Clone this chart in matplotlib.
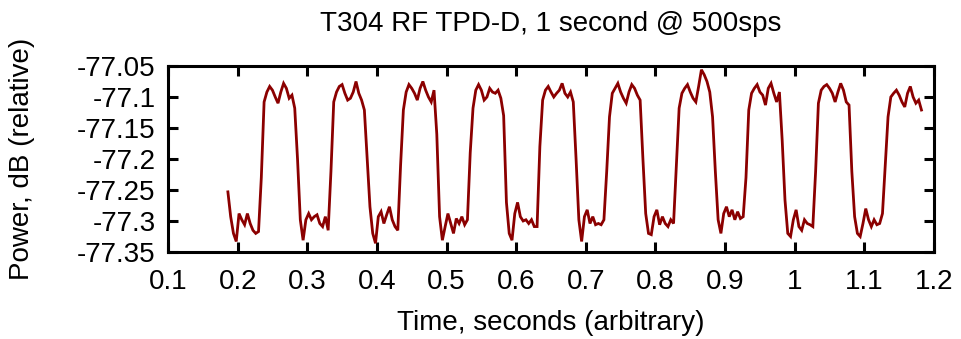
import matplotlib
matplotlib.use("Agg")
import matplotlib.pyplot as plt
from matplotlib import font_manager
import numpy as np

# ---- data ----
t_start = 0.186      # seconds, first sample shown
t_step = 0.004       # seconds between the points
power_db = [
    -77.253, -77.293, -77.320, -77.333, -77.288, -77.298, -77.306, -77.288, -77.304, -77.315,
    -77.320, -77.317, -77.230, -77.108, -77.092, -77.083, -77.089, -77.100, -77.110, -77.092,
    -77.078, -77.086, -77.102, -77.097, -77.118, -77.200, -77.298, -77.331, -77.298, -77.288,
    -77.298, -77.293, -77.290, -77.304, -77.309, -77.293, -77.315, -77.220, -77.108, -77.092,
    -77.083, -77.080, -77.094, -77.105, -77.102, -77.092, -77.075, -77.094, -77.105, -77.121,
    -77.200, -77.277, -77.320, -77.336, -77.293, -77.285, -77.304, -77.290, -77.277, -77.298,
    -77.309, -77.315, -77.210, -77.121, -77.092, -77.080, -77.086, -77.094, -77.105, -77.086,
    -77.075, -77.089, -77.100, -77.108, -77.089, -77.160, -77.293, -77.331, -77.309, -77.288,
    -77.304, -77.320, -77.296, -77.304, -77.293, -77.306, -77.298, -77.190, -77.118, -77.089,
    -77.080, -77.089, -77.105, -77.100, -77.086, -77.092, -77.094, -77.089, -77.102, -77.130,
    -77.270, -77.320, -77.331, -77.288, -77.270, -77.293, -77.300, -77.298, -77.304, -77.298,
    -77.309, -77.309, -77.180, -77.105, -77.089, -77.083, -77.092, -77.100, -77.094, -77.089,
    -77.078, -77.094, -77.100, -77.092, -77.108, -77.200, -77.298, -77.333, -77.293, -77.282,
    -77.304, -77.293, -77.306, -77.304, -77.306, -77.298, -77.220, -77.132, -77.094, -77.086,
    -77.078, -77.092, -77.102, -77.110, -77.092, -77.080, -77.086, -77.097, -77.105, -77.200,
    -77.288, -77.320, -77.322, -77.293, -77.282, -77.306, -77.293, -77.304, -77.309, -77.298,
    -77.304, -77.210, -77.118, -77.094, -77.086, -77.080, -77.092, -77.102, -77.108, -77.083,
    -77.056, -77.064, -77.075, -77.092, -77.132, -77.220, -77.298, -77.320, -77.288, -77.277,
    -77.293, -77.282, -77.298, -77.285, -77.296, -77.293, -77.230, -77.121, -77.094, -77.086,
    -77.080, -77.092, -77.097, -77.113, -77.086, -77.078, -77.094, -77.108, -77.092, -77.170,
    -77.266, -77.320, -77.325, -77.298, -77.282, -77.309, -77.315, -77.298, -77.304, -77.306,
    -77.309, -77.220, -77.110, -77.089, -77.083, -77.080, -77.086, -77.094, -77.108, -77.092,
    -77.078, -77.089, -77.108, -77.113, -77.220, -77.293, -77.320, -77.325, -77.304, -77.280,
    -77.298, -77.309, -77.298, -77.306, -77.304, -77.288, -77.210, -77.132, -77.100, -77.094,
    -77.089, -77.097, -77.108, -77.116, -77.094, -77.083, -77.100, -77.110, -77.105, -77.121,
]
x_ticks = [0.1, 0.2, 0.3, 0.4, 0.5, 0.6, 0.7, 0.8, 0.9, 1.0, 1.1, 1.2]
x_tick_labels = ["0.1", "0.2", "0.3", "0.4", "0.5", "0.6", "0.7", "0.8", "0.9", "1", "1.1", "1.2"]
y_ticks = [-77.35, -77.3, -77.25, -77.2, -77.15, -77.1, -77.05]
y_tick_labels = ["-77.35", "-77.3", "-77.25", "-77.2", "-77.15", "-77.1", "-77.05"]
title = "T304 RF TPD-D, 1 second @ 500sps"
x_label = "Time, seconds (arbitrary)"
y_label = "Power, dB (relative)"

time_s = t_start + t_step * np.arange(len(power_db))

# ---- font choice ----
names = {f.name for f in font_manager.fontManager.ttflist}
if "Liberation Sans Narrow" in names:
    fam = ["Liberation Sans Narrow", "DejaVu Sans"]
    fs = 24
elif "DejaVu Sans Condensed" in names:
    fam = ["DejaVu Sans Condensed", "DejaVu Sans"]
    fs = 19
else:
    fam = ["Liberation Sans", "DejaVu Sans"]
    fs = 20
plt.rcParams["font.family"] = fam

fig = plt.figure(figsize=(9.61, 3.39), dpi=100)
W, H = 961, 339
ax = fig.add_axes([168 / W, 1 - 252 / H, (934 - 168) / W, (252 - 66) / H])

ax.plot(time_s, power_db, color="#8b0000", lw=2.0, solid_joinstyle="miter")

ax.set_xlim(0.1, 1.2)
ax.set_ylim(-77.35, -77.05)
ax.set_xticks(x_ticks)
ax.set_xticklabels(x_tick_labels)
ax.set_yticks(y_ticks)
ax.set_yticklabels(y_tick_labels)

for s in ax.spines.values():
    s.set_linewidth(2.2)
    s.set_color("black")
ax.tick_params(direction="in", length=7, width=2.2, top=True, right=True,
               labelsize=fs, colors="black")
ax.tick_params(axis="x", pad=12)
ax.tick_params(axis="y", pad=9)

ax.set_title(title, fontsize=fs, y=1.18, va="center")
ax.set_xlabel(x_label, fontsize=fs)
ax.set_ylabel(y_label, fontsize=fs)
ax.xaxis.set_label_coords(0.5, (252 - 323) / 186)
ax.yaxis.set_label_coords((22 - 168) / 766, 0.5)
ax.xaxis.label.set_va("center")
ax.yaxis.label.set_va("center")

fig.savefig("out.png", dpi=100)
